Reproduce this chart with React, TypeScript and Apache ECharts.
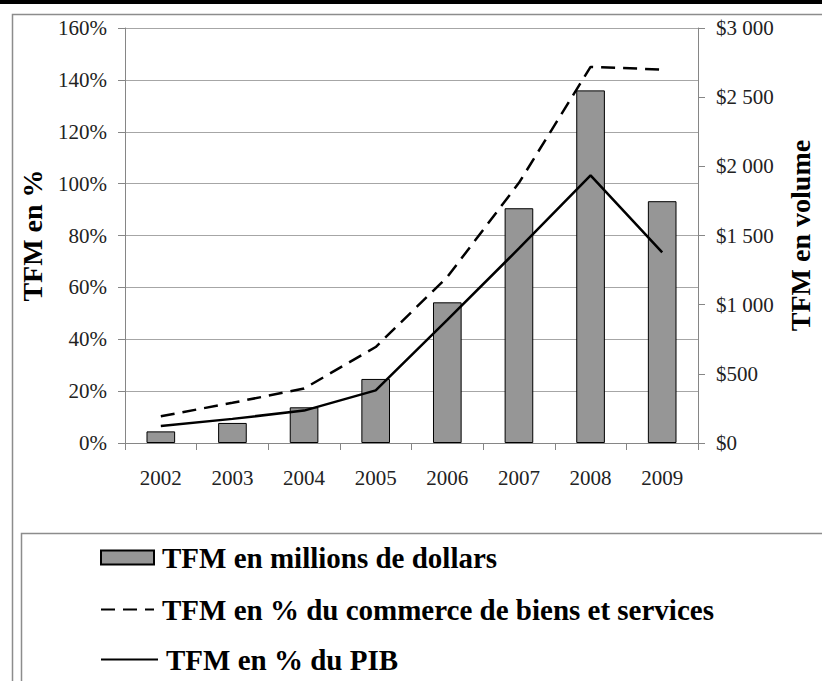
import React, { useEffect, useRef } from "react";
import * as echarts from "echarts";

const years = ["2002", "2003", "2004", "2005", "2006", "2007", "2008", "2009"];
const volumeMillions = [84, 145, 258, 463, 1017, 1697, 2549, 1748];
const pctCommerce = [10.3, 15.5, 21, 37, 64, 100.3, 145, 144];
const pctPIB = [6.6, 9.3, 12.5, 20.3, 47.5, 75, 103.2, 73.5];

const nameBars = "TFM en millions de dollars";
const nameCommerce = "TFM en % du commerce de biens et services";
const namePIB = "TFM en % du PIB";

const FONT = "Liberation Serif";

function fmtDollar(v: number): string {
  if (v >= 1000) {
    const th = Math.floor(v / 1000);
    const rest = String(v % 1000).padStart(3, "0");
    return "$" + th + " " + rest;
  }
  return "$" + v;
}

const legendText = { fontFamily: FONT, fontSize: 29, fontWeight: "bold", color: "#000", padding: [0, 0, 0, 3] };

export default function App() {
  const ref = useRef<HTMLDivElement>(null);
  useEffect(() => {
    if (!ref.current) return;
    const chart = echarts.init(ref.current, null, { renderer: "svg" });
    chart.setOption({
      animation: false,
      backgroundColor: "#ffffff",
      textStyle: { fontFamily: FONT },
      graphic: [
        { type: "rect", left: 0, top: 0, shape: { width: 822, height: 4 }, style: { fill: "#000" }, z: 10 },
        { type: "rect", left: 10, top: 12, shape: { width: 900, height: 800 }, style: { fill: "none", stroke: "#8c8c8c", lineWidth: 1.5 }, z: 10 },
        { type: "rect", left: 19, top: 531, shape: { width: 900, height: 300 }, style: { fill: "none", stroke: "#8c8c8c", lineWidth: 1.5 }, z: 10 },
      ],
      grid: { left: 125, right: 119, top: 28, bottom: 238, containLabel: false },
      legend: [
        {
          left: 100,
          top: 543,
          padding: 0,
          itemWidth: 53,
          itemHeight: 14,
          textStyle: legendText,
          data: [{ name: nameBars, icon: "rect" }],
        },
        {
          left: 100,
          top: 595,
          padding: 0,
          itemWidth: 53,
          itemHeight: 14,
          textStyle: legendText,
          itemStyle: { opacity: 0 },
          data: [{ name: nameCommerce }],
        },
        {
          left: 100,
          top: 645,
          padding: 0,
          itemWidth: 57,
          itemHeight: 14,
          textStyle: legendText,
          itemStyle: { opacity: 0 },
          data: [{ name: namePIB }],
        },
      ],
      xAxis: {
        type: "category",
        data: years,
        boundaryGap: true,
        axisLine: { lineStyle: { color: "#868686", width: 1 } },
        axisTick: { show: true, length: 7, lineStyle: { color: "#868686" } },
        axisLabel: { fontFamily: FONT, fontSize: 21, color: "#222", margin: 24 },
      },
      yAxis: [
        {
          type: "value",
          min: 0,
          max: 160,
          interval: 20,
          position: "left",
          name: "TFM en %",
          nameLocation: "middle",
          nameRotate: 90,
          nameGap: 79,
          nameTextStyle: { fontFamily: FONT, fontSize: 28, fontWeight: "bold", color: "#000" },
          axisLine: { show: true, lineStyle: { color: "#868686", width: 1 } },
          axisTick: { show: true, length: 7, lineStyle: { color: "#868686" } },
          axisLabel: { fontFamily: FONT, fontSize: 21, color: "#222", margin: 18, formatter: (v: number) => v + "%" },
          splitLine: { show: true, lineStyle: { color: "#a6a6a6", width: 1 } },
        },
        {
          type: "value",
          min: 0,
          max: 3000,
          interval: 500,
          position: "right",
          name: "TFM en volume",
          nameLocation: "middle",
          nameRotate: 90,
          nameGap: 88,
          nameTextStyle: { fontFamily: FONT, fontSize: 28, fontWeight: "bold", color: "#000" },
          axisLine: { show: true, lineStyle: { color: "#868686", width: 1 } },
          axisTick: { show: true, length: 7, lineStyle: { color: "#868686" } },
          axisLabel: { fontFamily: FONT, fontSize: 21, color: "#222", margin: 18, formatter: (v: number) => fmtDollar(v) },
          splitLine: { show: false },
        },
      ],
      series: [
        {
          name: nameBars,
          type: "bar",
          yAxisIndex: 1,
          data: volumeMillions,
          barWidth: "40%",
          itemStyle: { color: "#969696", borderColor: "#000", borderWidth: 1 },
        },
        {
          name: nameCommerce,
          type: "line",
          yAxisIndex: 0,
          data: pctCommerce,
          symbol: "none",
          lineStyle: { color: "#000", width: 2.5, type: [14, 8] },
          itemStyle: { color: "#000" },
        },
        {
          name: namePIB,
          type: "line",
          yAxisIndex: 0,
          data: pctPIB,
          symbol: "none",
          lineStyle: { color: "#000", width: 2.5, type: "solid" },
          itemStyle: { color: "#000" },
        },
      ],
    });
    return () => chart.dispose();
  }, []);
  return <div ref={ref} style={{ position: "fixed", left: 0, top: 0, width: 822, height: 681 }} />;
}
